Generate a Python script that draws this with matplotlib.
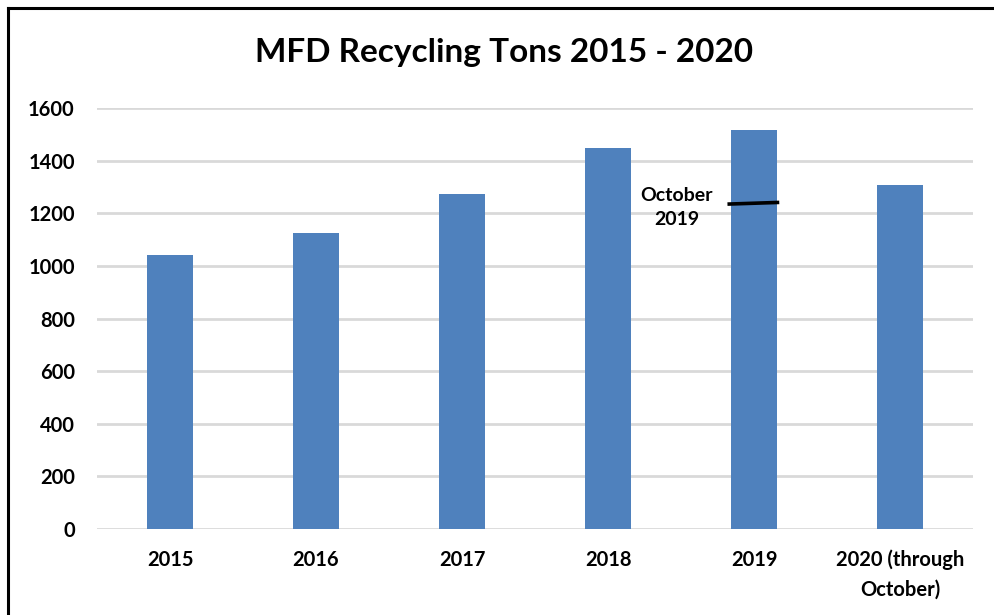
import matplotlib.pyplot as plt
from matplotlib.lines import Line2D

years = ['2015', '2016', '2017', '2018', '2019', '2020 (through\nOctober)']
tons = [1042, 1125, 1272, 1448, 1516, 1306]
oct_2019 = 1238

plt.rcParams['font.family'] = ['Lato', 'DejaVu Sans']
plt.rcParams['font.weight'] = 'bold'

fig = plt.figure(figsize=(9.95, 6.15), dpi=100)
ax = fig.add_axes([0.0975, 0.1398, 0.8805, 0.6846])

x = list(range(len(years)))
ax.bar(x, tons, width=0.315, color='#4F81BD', zorder=3)

# October 2019 marker on the 2019 bar
ax.plot([3.83, 4.16], [oct_2019 - 3, oct_2019 + 3], color='black', lw=2.6, zorder=4)
ax.text(3.47, 1222, 'October\n2019', ha='center', va='center', fontsize=14,
        fontweight='bold', linespacing=1.55)

ax.set_xlim(-0.5, 5.5)
ax.set_ylim(0, 1600)
ax.set_yticks(range(0, 1601, 200))
ax.set_xticks(x)
ax.set_xticklabels(years, fontsize=14.5, fontweight='bold', linespacing=1.55, va='top')
ax.tick_params(axis='y', labelsize=14.5, length=0, pad=16)
ax.tick_params(axis='x', length=0, pad=15)
for t in ax.get_yticklabels():
    t.set_fontweight('bold')

ax.grid(axis='y', color='#D9D9D9', lw=2, zorder=0)
for s in ax.spines.values():
    s.set_visible(False)

fig.text(0.507, 0.915, 'MFD Recycling Tons 2015 - 2020', ha='center', va='center',
         fontsize=24, fontweight='bold')

# outer frame (top and left edges visible)
fig.add_artist(Line2D([8 / 995, 8 / 995], [0, 1 - 8 / 615], transform=fig.transFigure,
                      color='black', lw=2.2))
fig.add_artist(Line2D([8 / 995, 1], [1 - 8 / 615, 1 - 8 / 615], transform=fig.transFigure,
                      color='black', lw=2.2))

fig.savefig('out.png', dpi=100)
